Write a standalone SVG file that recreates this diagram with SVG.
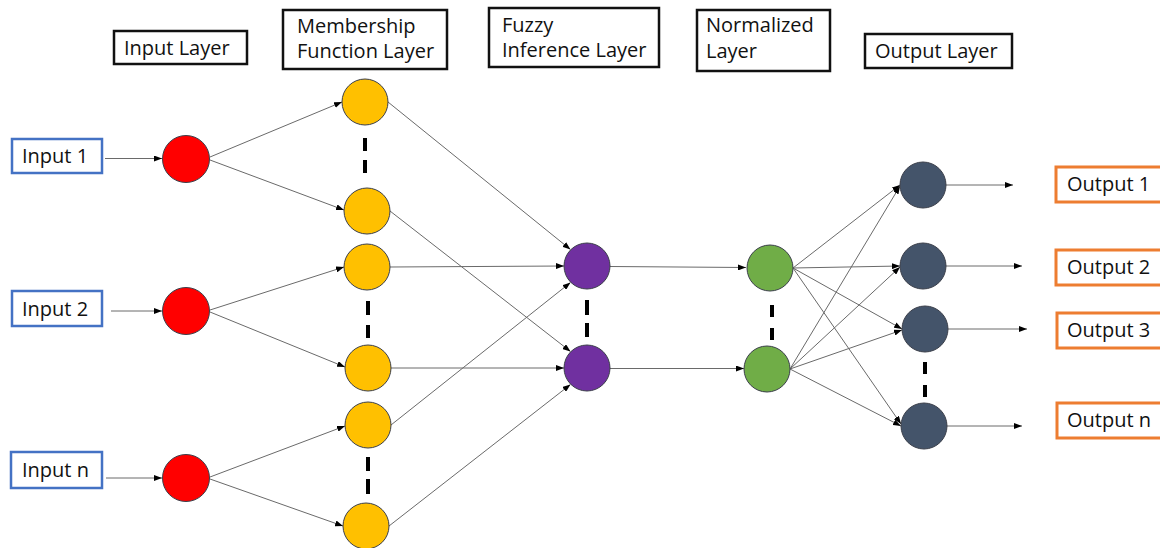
<svg xmlns="http://www.w3.org/2000/svg" width="1160" height="548" viewBox="0 0 1160 548">
<style>
text{font-family:"Open Sans","Liberation Sans",sans-serif;font-size:20px;fill:#111}
.hdr{fill:#fff;stroke:#111;stroke-width:2.5}
.inb{fill:#fff;stroke:#4472C4;stroke-width:2.5}
.outb{fill:#fff;stroke:#ED7D31;stroke-width:3}
.con line{stroke:#6a6a6a;stroke-width:1;fill:none}
.arr{marker-end:url(#ah)}
.dash{stroke:#000;stroke-width:4}
.nd{stroke:#3b3f4a;stroke-width:1}
.red{fill:#FF0000}.yel{fill:#FFC000}.pur{fill:#7030A0}.grn{fill:#70AD47}.drk{fill:#44546A}
</style>
<defs>
<marker id="ah" markerUnits="userSpaceOnUse" markerWidth="8" markerHeight="6" refX="8" refY="3" orient="auto">
<path d="M0,0 L8,3 L0,6 z" fill="#000"/>
</marker>
</defs>
<rect width="1160" height="548" fill="#fff"/>

<g id="hdr-input"><rect class="hdr" x="114" y="31" width="133" height="33"/><text x="124" y="55">Input Layer</text></g>
<g id="hdr-membership"><rect class="hdr" x="283" y="10" width="164" height="59"/><text x="297" y="33">Membership</text><text x="297" y="58">Function Layer</text></g>
<g id="hdr-fuzzy"><rect class="hdr" x="489" y="8" width="170" height="59"/><text x="502" y="32">Fuzzy</text><text x="502" y="57">Inference Layer</text></g>
<g id="hdr-normalized"><rect class="hdr" x="697" y="10" width="133" height="61"/><text x="706" y="32">Normalized</text><text x="706" y="58">Layer</text></g>
<g id="hdr-output"><rect class="hdr" x="865" y="34" width="147" height="34"/><text x="875" y="58">Output Layer</text></g>

<g class="con" id="connectors">
<line class="arr" x1="105" y1="158.5" x2="162" y2="158.5"/>
<line class="arr" x1="111" y1="311" x2="162" y2="311"/>
<line class="arr" x1="106" y1="478" x2="162" y2="478"/>
<line class="arr" x1="210" y1="157" x2="342" y2="102"/>
<line class="arr" x1="210" y1="160" x2="344" y2="210"/>
<line class="arr" x1="210" y1="310" x2="344" y2="267"/>
<line class="arr" x1="210" y1="312" x2="345" y2="367"/>
<line class="arr" x1="210" y1="477" x2="345" y2="426"/>
<line class="arr" x1="210" y1="479" x2="343" y2="526"/>
<line class="arr" x1="388" y1="102" x2="570.5" y2="249.5"/>
<line class="arr" x1="390" y1="211" x2="570.5" y2="351.5"/>
<line class="arr" x1="390" y1="267" x2="564" y2="266"/>
<line class="arr" x1="391" y1="368" x2="564" y2="368"/>
<line class="arr" x1="391" y1="425" x2="570.5" y2="282.5"/>
<line class="arr" x1="389" y1="526" x2="570.5" y2="384.5"/>
<line class="arr" x1="610" y1="266.5" x2="746" y2="267.5"/>
<line class="arr" x1="610" y1="368.5" x2="744" y2="368.5"/>
<line class="arr" x1="793" y1="268" x2="900" y2="185"/>
<line class="arr" x1="793" y1="268" x2="900" y2="266"/>
<line class="arr" x1="793" y1="268" x2="902" y2="329"/>
<line class="arr" x1="793" y1="268" x2="901" y2="424"/>
<line class="arr" x1="790" y1="369" x2="900" y2="186"/>
<line class="arr" x1="790" y1="369" x2="900" y2="267"/>
<line class="arr" x1="790" y1="369" x2="902" y2="330"/>
<line class="arr" x1="790" y1="369" x2="901" y2="426"/>
<line class="arr" x1="946" y1="185" x2="1013" y2="185"/>
<line class="arr" x1="946" y1="266" x2="1022" y2="266"/>
<line class="arr" x1="948" y1="329" x2="1027" y2="329"/>
<line class="arr" x1="947" y1="426" x2="1022" y2="426"/>
</g>

<g id="dashes">
<line class="dash" x1="365" y1="138" x2="365" y2="151"/><line class="dash" x1="365" y1="160" x2="365" y2="173"/>
<line class="dash" x1="368" y1="301" x2="368" y2="315"/><line class="dash" x1="368" y1="325" x2="368" y2="338"/>
<line class="dash" x1="368" y1="457" x2="368" y2="471"/><line class="dash" x1="368" y1="479" x2="368" y2="494"/>
<line class="dash" x1="587" y1="300" x2="587" y2="315"/><line class="dash" x1="587" y1="323" x2="587" y2="337"/>
<line class="dash" x1="772" y1="305" x2="772" y2="317"/><line class="dash" x1="772" y1="328" x2="772" y2="340"/>
<line class="dash" x1="925" y1="362" x2="925" y2="374"/><line class="dash" x1="925" y1="385" x2="925" y2="397"/>
</g>

<g id="input1"><rect class="inb" x="12" y="139" width="90" height="34"/><text x="22" y="163">Input 1</text></g>
<g id="input2"><rect class="inb" x="12" y="291" width="90" height="35"/><text x="22" y="316">Input 2</text></g>
<g id="inputn"><rect class="inb" x="11" y="452" width="91" height="36"/><text x="22" y="477">Input n</text></g>

<g id="r1"><circle class="nd red" cx="186" cy="159" r="23.5"/></g>
<g id="r2"><circle class="nd red" cx="186" cy="311" r="23.5"/></g>
<g id="rn"><circle class="nd red" cx="186" cy="478" r="23.5"/></g>

<g id="y1"><circle class="nd yel" cx="365" cy="102" r="23"/></g>
<g id="y2"><circle class="nd yel" cx="367" cy="211" r="23"/></g>
<g id="y3"><circle class="nd yel" cx="367" cy="267" r="23"/></g>
<g id="y4"><circle class="nd yel" cx="368" cy="368" r="23"/></g>
<g id="y5"><circle class="nd yel" cx="368" cy="425" r="23"/></g>
<g id="y6"><circle class="nd yel" cx="366" cy="526" r="23"/></g>

<g id="p1"><circle class="nd pur" cx="587" cy="266" r="23"/></g>
<g id="p2"><circle class="nd pur" cx="587" cy="368" r="23"/></g>

<g id="g1"><circle class="nd grn" cx="770" cy="268" r="23"/></g>
<g id="g2"><circle class="nd grn" cx="767" cy="369" r="23"/></g>

<g id="d1"><circle class="nd drk" cx="923" cy="185" r="23"/></g>
<g id="d2"><circle class="nd drk" cx="923" cy="266" r="23"/></g>
<g id="d3"><circle class="nd drk" cx="925" cy="329" r="23"/></g>
<g id="d4"><circle class="nd drk" cx="924" cy="426" r="23"/></g>

<g id="output1"><rect class="outb" x="1056" y="167" width="115" height="35"/><text x="1067" y="191">Output 1</text></g>
<g id="output2"><rect class="outb" x="1056" y="250" width="115" height="35"/><text x="1067" y="274">Output 2</text></g>
<g id="output3"><rect class="outb" x="1057" y="313" width="115" height="35"/><text x="1067" y="337">Output 3</text></g>
<g id="outputn"><rect class="outb" x="1057" y="403" width="115" height="35"/><text x="1067" y="427">Output n</text></g>
</svg>
